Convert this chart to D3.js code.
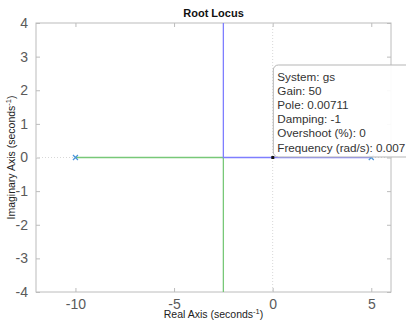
<!DOCTYPE html>
<html>
<head>
<meta charset="utf-8">
<script src="https://cdn.jsdelivr.net/npm/d3@7"></script>
<style>
  body { margin: 0; background: #fff; }
  svg { display: block; font-family: "Liberation Sans", Arial, sans-serif; }
</style>
</head>
<body>
<div class="chart"></div>
<script>
// data
var poles = [-10, 5];
var branchBlueRe = [5, -2.5, -2.5];
var branchBlueIm = [0, 0, 4.5];
var branchGreenRe = [-10, -2.5, -2.5];
var branchGreenIm = [0, 0, -4.5];
var selectedPole = [0.00711, 0];
var xTicks = [-10, -5, 0, 5];
var yTicks = [-4, -3, -2, -1, 0, 1, 2, 3, 4];
var tipLines = ["System: gs", "Gain: 50", "Pole: 0.00711", "Damping: -1", "Overshoot (%): 0", "Frequency (rad/s): 0.007"];

var svgWidth = 406;
var svgHeight = 321;
var margin = { top: 23, right: 15, bottom: 29, left: 36 };
var width = svgWidth - margin.left - margin.right;
var height = svgHeight - margin.top - margin.bottom;

var svg = d3.select(".chart")
  .append("svg")
  .attr("width", svgWidth)
  .attr("height", svgHeight);

var chart = svg.append("g")
  .attr("transform", "translate(" + margin.left + "," + margin.top + ")");

var x = d3.scaleLinear().domain([-12, 6]).range([0, width]);
var y = d3.scaleLinear().domain([-4, 4]).range([height, 0]);

svg.append("defs").append("clipPath").attr("id", "clip")
  .append("rect").attr("width", width).attr("height", height);

// box + ticks
var boxColor = "#bcbcbc";
var labelColor = "#5a5a5a";

chart.append("rect")
  .attr("width", width).attr("height", height)
  .attr("fill", "none").attr("stroke", boxColor);

function styleAxis(g) {
  g.select(".domain").remove();
  g.selectAll(".tick line").attr("stroke", boxColor);
  g.selectAll(".tick text").attr("fill", labelColor).style("font-size", "14px")
    .style("font-family", "Liberation Sans, Arial, sans-serif");
}

var fmt = function(d) { return String(d); };

chart.append("g")
  .attr("transform", "translate(0," + height + ")")
  .call(d3.axisBottom(x).tickValues(xTicks).tickSizeInner(-4).tickPadding(7).tickFormat(fmt))
  .call(styleAxis);
chart.append("g")
  .call(d3.axisTop(x).tickValues(xTicks).tickSizeInner(-4).tickFormat(""))
  .call(styleAxis);
chart.append("g")
  .call(d3.axisLeft(y).tickValues(yTicks).tickSizeInner(-4).tickPadding(8).tickFormat(fmt))
  .call(styleAxis);
chart.append("g")
  .attr("transform", "translate(" + width + ",0)")
  .call(d3.axisRight(y).tickValues(yTicks).tickSizeInner(-4).tickFormat(""))
  .call(styleAxis);

// dotted zero lines
var plot = chart.append("g").attr("clip-path", "url(#clip)");
plot.append("line")
  .attr("x1", x(0)).attr("x2", x(0)).attr("y1", 0).attr("y2", height)
  .attr("stroke", "#d8d8d8").attr("stroke-dasharray", "1,2");
plot.append("line")
  .attr("x1", 0).attr("x2", width).attr("y1", y(0)).attr("y2", y(0))
  .attr("stroke", "#d8d8d8").attr("stroke-dasharray", "1,2");

// branches
var locusLine = d3.line().x(function(d) { return x(d[0]); }).y(function(d) { return y(d[1]); });
var green = d3.zip(branchGreenRe, branchGreenIm);
var blue = d3.zip(branchBlueRe, branchBlueIm);
plot.append("path").datum(green).attr("d", locusLine)
  .style("fill", "none").style("stroke", "#78c878").style("stroke-width", 1.3);
plot.append("path").datum(blue).attr("d", locusLine)
  .style("fill", "none").style("stroke", "#7e7eff").style("stroke-width", 1.3);

// pole markers
plot.selectAll(".pole")
  .data(poles)
  .enter().append("path")
  .attr("class", "pole")
  .attr("transform", function(d) { return "translate(" + x(d) + "," + y(0) + ")"; })
  .attr("d", "M-2.5,-2.5L2.5,2.5M-2.5,2.5L2.5,-2.5")
  .attr("stroke", "#4a94d8").attr("stroke-width", 1.2);

// selected point
plot.append("rect")
  .attr("x", x(selectedPole[0]) - 1.5).attr("y", y(selectedPole[1]) - 1.5)
  .attr("width", 3).attr("height", 3).attr("fill", "#111");

// data tip
var tipX = x(selectedPole[0]) + margin.left + 0.5;
var tipY = 65;
var tip = svg.append("g").attr("transform", "translate(" + tipX + "," + tipY + ")");
tip.append("rect")
  .attr("width", 150).attr("height", 92).attr("rx", 5)
  .attr("fill", "#fff").attr("fill-opacity", 0.92)
  .attr("stroke", "#b5b5b5");
tip.selectAll("text")
  .data(tipLines)
  .enter().append("text")
  .attr("x", 4)
  .attr("y", function(d, i) { return 15.5 + i * 14.2; })
  .attr("fill", "#333")
  .style("font-size", "11.7px")
  .text(function(d) { return d; });

// title and labels
svg.append("text")
  .attr("x", margin.left + width / 2).attr("y", 17)
  .attr("text-anchor", "middle")
  .style("font-size", "11px").style("font-weight", "bold")
  .attr("fill", "#111")
  .text("Root Locus");

var xl = svg.append("text")
  .attr("x", margin.left + width / 2).attr("y", 318)
  .attr("text-anchor", "middle")
  .style("font-size", "10.5px").attr("fill", "#222");
xl.append("tspan").text("Real Axis (seconds");
xl.append("tspan").attr("dy", -4).style("font-size", "7.5px").text("-1");
xl.append("tspan").attr("dy", 4).text(")");

var yl = svg.append("text")
  .attr("transform", "translate(15," + (margin.top + height / 2) + ") rotate(-90)")
  .attr("text-anchor", "middle")
  .style("font-size", "10.5px").attr("fill", "#222");
yl.append("tspan").text("Imaginary Axis (seconds");
yl.append("tspan").attr("dy", -4).style("font-size", "7.5px").text("-1");
yl.append("tspan").attr("dy", 4).text(")");
</script>
</body>
</html>
